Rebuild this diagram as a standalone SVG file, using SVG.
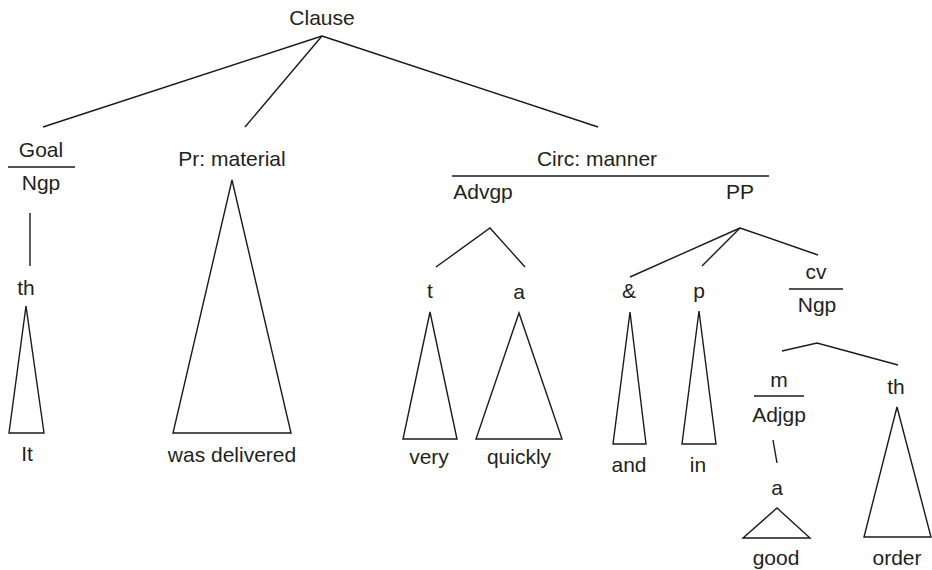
<svg xmlns="http://www.w3.org/2000/svg" width="932" height="570" viewBox="0 0 932 570">
<style>
text{font-family:"Liberation Sans",Arial,sans-serif;font-size:21px;fill:#231f20;text-anchor:middle}
line,polygon,polyline{stroke:#1a1a1a;stroke-width:1.4;fill:none}
</style>
<rect width="932" height="570" fill="#fff"/>
<g id="connectors">
<line x1="322" y1="36" x2="43" y2="127"/>
<line x1="322" y1="36" x2="245" y2="127"/>
<line x1="322" y1="36" x2="598" y2="127"/>
<line x1="30" y1="213" x2="30" y2="266"/>
<polyline points="436,267 490,228 525,267"/>
<line x1="740" y1="228" x2="630" y2="277"/>
<line x1="740" y1="228" x2="702" y2="266"/>
<line x1="740" y1="228" x2="818" y2="255"/>
<polyline points="782,351 817,343 898,365"/>
<line x1="773" y1="440" x2="777" y2="463"/>
</g>
<g id="clause"><text x="322" y="25">Clause</text></g>
<g id="goal"><text x="41" y="157">Goal</text><line x1="8" y1="167" x2="75" y2="167"/><text x="41" y="190">Ngp</text></g>
<g id="th1"><text x="26" y="295">th</text><polygon points="26,306 9,433 44,433"/></g>
<g id="it"><text x="27" y="461">It</text></g>
<g id="pr"><text x="232" y="166">Pr: material</text><polygon points="232,180 173,433 291,433"/></g>
<g id="wasdelivered"><text x="232" y="462">was delivered</text></g>
<g id="circ"><text x="597" y="166">Circ: manner</text><line x1="452" y1="176" x2="769" y2="176"/><text x="483" y="199">Advgp</text><text x="740" y="199">PP</text></g>
<g id="t"><text x="430" y="298">t</text><polygon points="430,312 403,439 457,439"/></g>
<g id="very"><text x="429" y="464">very</text></g>
<g id="a1"><text x="519" y="299">a</text><polygon points="519,313 476,439 562,439"/></g>
<g id="quickly"><text x="519" y="464">quickly</text></g>
<g id="amp"><text x="629" y="298">&amp;</text><polygon points="630,312 613,444 646,444"/></g>
<g id="and"><text x="629" y="472">and</text></g>
<g id="p"><text x="699" y="298">p</text><polygon points="699,311 682,444 716,444"/></g>
<g id="in"><text x="698" y="472">in</text></g>
<g id="cv"><text x="816" y="279">cv</text><line x1="789" y1="289" x2="843" y2="289"/><text x="817" y="312">Ngp</text></g>
<g id="m"><text x="779" y="387">m</text><line x1="754" y1="396" x2="804" y2="396"/><text x="779" y="422">Adjgp</text></g>
<g id="a2"><text x="777" y="495">a</text><polygon points="777,508 743,538 810,538"/></g>
<g id="good"><text x="776" y="565">good</text></g>
<g id="th2"><text x="896" y="394">th</text><polygon points="897,407 864,537 931,537"/></g>
<g id="order"><text x="897" y="565">order</text></g>
</svg>
